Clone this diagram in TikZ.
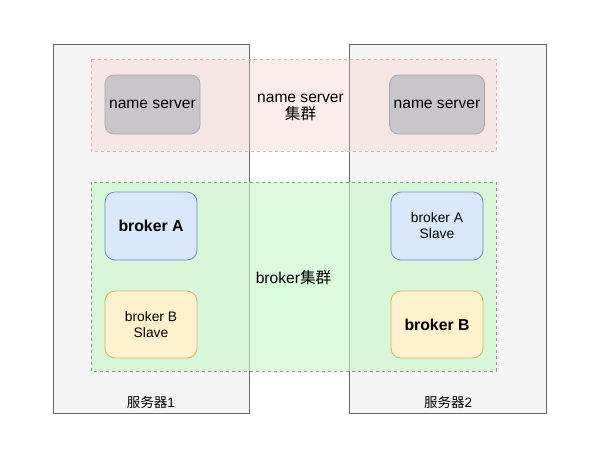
\documentclass[tikz,border=0pt]{standalone}
\usepackage{fontspec}
\setmainfont{Liberation Sans}
\newfontfamily\cjk{Noto Sans CJK SC}
\definecolor{srvfill}{HTML}{F5F5F5}
\definecolor{srvline}{HTML}{666666}
\definecolor{nsfill}{HTML}{C9C6CB}
\definecolor{nsline}{HTML}{A8A6AA}
\definecolor{pinkc}{HTML}{F8CECC}
\definecolor{pinkl}{HTML}{E8A8AA}
\definecolor{greenc}{HTML}{C6F7C6}
\definecolor{greenl}{HTML}{8A9A8A}
\definecolor{bluef}{HTML}{DAE8FC}
\definecolor{bluel}{HTML}{6C8EBF}
\definecolor{yelf}{HTML}{FFF2CC}
\definecolor{yell}{HTML}{D6B656}
\tikzset{
  server/.style={draw=srvline, fill=srvfill, line width=0.8pt},
  cluster/.style={dashed, dash pattern=on 3pt off 3pt, line width=0.6pt},
  nsbox/.style={draw=nsline, fill=nsfill, rounded corners=9pt, line width=0.7pt, minimum width=95pt, minimum height=59pt, font=\fontsize{15.6}{18}\selectfont},
  abox/.style={draw=bluel, fill=bluef, rounded corners=10pt, line width=0.8pt, minimum width=92pt, minimum height=68pt, align=center},
  bbox/.style={draw=yell, fill=yelf, rounded corners=10pt, line width=0.8pt, minimum width=92pt, minimum height=67pt, align=center},
  boldlbl/.style={font=\fontsize{15.8}{18}\selectfont\bfseries},
  slavelbl/.style={font=\fontsize{13.8}{16}\selectfont},
  plain/.style={inner sep=0pt, align=center}
}
\begin{document}
\begin{tikzpicture}[x=1pt,y=-1pt]
\useasboundingbox (0,0) rectangle (605,456);
\fill[white] (0,0) rectangle (605,456);
% servers
\path[server] (53,44) rectangle (249,413);
\path[server] (349,44) rectangle (546,413);
% clusters
\fill[pinkc, fill opacity=0.35] (91,59) rectangle (496,151);
\draw[pinkl, cluster] (91,59) rectangle (496,151);
\fill[greenc, fill opacity=0.6] (91,182) rectangle (496,371);
\draw[greenl, cluster] (91,182) rectangle (496,371);
% name servers
\node[nsbox] (ns1) at (152.5,104.5) {name server};
\node[nsbox] (ns2) at (437,104.5) {name server};
% brokers
\node[abox, boldlbl] (ba) at (151,226) {broker A};
\node[bbox, slavelbl] (bbs) at (151,324.5) {broker B\\Slave};
\node[abox, slavelbl] (bas) at (437,226) {broker A\\Slave};
\node[bbox, boldlbl] (bb) at (437,324.5) {broker B};
% labels
\node[plain, font=\fontsize{15.6}{17}\selectfont] (nslbl) at (300.5,107) {name server\\{\cjk 集群}};
\node[plain, font=\fontsize{15.6}{17}\selectfont] (brlbl) at (293.5,278) {broker{\cjk 集群}};
\node[plain, font=\fontsize{13.5}{16}\selectfont] (s1) at (151,402) {{\cjk 服务器}1};
\node[plain, font=\fontsize{13.5}{16}\selectfont] (s2) at (448,402) {{\cjk 服务器}2};
\end{tikzpicture}
\end{document}
